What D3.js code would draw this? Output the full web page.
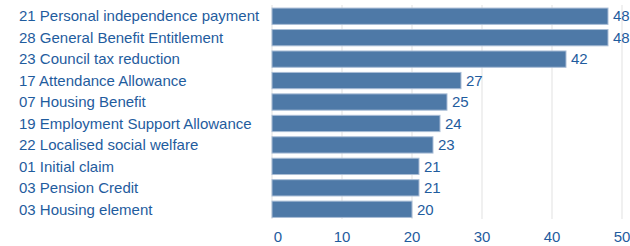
<!DOCTYPE html>
<html>
<head>
<meta charset="utf-8">
<script src="https://cdn.jsdelivr.net/npm/d3@7"></script>
<style>
  body { margin: 0; background: #fff; }
  text { font-family: "Liberation Sans", Arial, sans-serif; }
</style>
</head>
<body>
<div id="chart"></div>
<script>
var categories = ["21 Personal independence payment", "28 General Benefit Entitlement", "23 Council tax reduction",
  "17 Attendance Allowance", "07 Housing Benefit", "19 Employment Support Allowance",
  "22 Localised social welfare", "01 Initial claim", "03 Pension Credit", "03 Housing element"];
var values = [48, 48, 42, 27, 25, 24, 23, 21, 21, 20];
var ticks = [0, 10, 20, 30, 40, 50];

var width = 630, height = 246;
var svg = d3.select("#chart").append("svg")
  .attr("width", width)
  .attr("height", height);

var x = d3.scaleLinear().domain([0, 50]).range([272, 622]);
var y = d3.scaleBand().domain(categories).range([5.5, 220]).paddingInner(0.24).paddingOuter(0.12);

// gridlines
svg.selectAll("line.grid")
  .data(ticks)
  .enter()
  .append("line")
  .attr("class", "grid")
  .attr("x1", function (d) { return x(d); })
  .attr("x2", function (d) { return x(d); })
  .attr("y1", 5)
  .attr("y2", 219)
  .style("stroke", "#ebebeb")
  .style("stroke-width", 1.5);

// bars
svg.selectAll("rect.bar")
  .data(values)
  .enter()
  .append("rect")
  .attr("class", "bar")
  .attr("x", x(0))
  .attr("y", function (d, i) { return y(categories[i]); })
  .attr("width", function (d) { return x(d) - x(0); })
  .attr("height", y.bandwidth())
  .style("fill", "#4e79a7")
  .style("stroke", "#a9bdd6")
  .style("stroke-width", 1);

// value labels
svg.selectAll("text.val")
  .data(values)
  .enter()
  .append("text")
  .attr("class", "val")
  .attr("x", function (d) { return x(d) + 5; })
  .attr("y", function (d, i) { return y(categories[i]) + y.bandwidth() / 2; })
  .attr("dy", "0.35em")
  .style("font-size", "15px")
  .style("fill", "#1f5c9e")
  .text(function (d) { return d; });

// category labels
svg.selectAll("text.cat")
  .data(categories)
  .enter()
  .append("text")
  .attr("class", "cat")
  .attr("x", 19)
  .attr("y", function (d) { return y(d) + y.bandwidth() / 2; })
  .attr("dy", "0.35em")
  .style("font-size", "15px")
  .style("fill", "#1f5c9e")
  .text(function (d) { return d; });

// x axis tick labels (the 0 sits a little right of its gridline)
svg.selectAll("text.tick")
  .data(ticks)
  .enter()
  .append("text")
  .attr("class", "tick")
  .attr("x", function (d) { return x(d) + (d === 0 ? 6 : 0); })
  .attr("y", 237)
  .attr("dy", "0.35em")
  .style("text-anchor", "middle")
  .style("font-size", "15px")
  .style("fill", "#1f5c9e")
  .text(function (d) { return d; });
</script>
</body>
</html>
